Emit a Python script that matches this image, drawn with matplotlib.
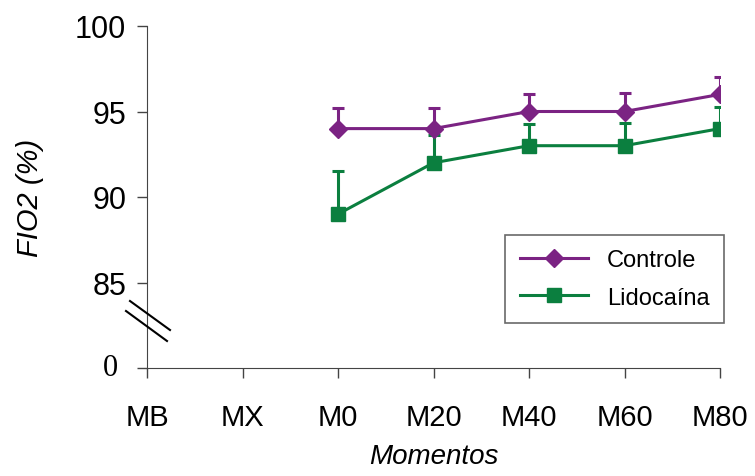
import matplotlib.pyplot as plt
import matplotlib.transforms as mtransforms
from matplotlib.lines import Line2D

# data
momentos = ["MB", "MX", "M0", "M20", "M40", "M60", "M80"]
idx = [2, 3, 4, 5, 6]          # positions of M0..M80
controle = [94, 94, 95, 95, 96]
controle_sd = [1.2, 1.2, 1.0, 1.1, 1.0]
lidocaina = [89, 92, 93, 93, 94]
lidocaina_sd = [2.5, 1.6, 1.25, 1.3, 1.25]
yticks = [80, 85, 90, 95, 100]
ytick_labels = ["", "85", "90", "95", "100"]

purple = "#7B2383"
green = "#0B7F3F"

plt.rcParams['font.family'] = ['Liberation Sans', 'DejaVu Sans']

fig = plt.figure(figsize=(7.55, 4.77), dpi=100)
ax = fig.add_axes([147/755, 1 - 369/477, 573/755, 342/477])

ax.errorbar(idx, controle, yerr=[[0]*5, controle_sd], color=purple, marker="D",
            markersize=9, linewidth=2.2, capsize=4.5, capthick=2.2, zorder=3)
ax.errorbar(idx, lidocaina, yerr=[[0]*5, lidocaina_sd], color=green, marker="s",
            markersize=10, linewidth=2.2, capsize=4.5, capthick=2.2, zorder=2)

ax.set_xlim(0, 6)
ax.set_ylim(80, 100)
ax.set_xticks(range(len(momentos)))
ax.set_xticklabels(momentos, fontsize=21)
ax.set_yticks(yticks)
ax.set_yticklabels(ytick_labels, fontsize=22)
ax.tick_params(axis='both', direction='out', length=7, width=1, color='#444444')
ax.tick_params(axis='x', pad=18)
ax.tick_params(axis='y', pad=8)

# the "0" below the axis break is set in a serif face
trans = mtransforms.blended_transform_factory(ax.transAxes, ax.transData)
ax.text(-0.05, 80, "0", transform=trans, fontsize=22, family='Liberation Serif',
        ha='right', va='center')

for s in ["top", "right"]:
    ax.spines[s].set_visible(False)
for s in ["left", "bottom"]:
    ax.spines[s].set_color('#444444')

ax.set_xlabel("Momentos", fontsize=20, style='italic', labelpad=9)
ax.set_ylabel("FIO2 (%)", fontsize=21, style='italic', labelpad=22)

handles = [Line2D([], [], color=purple, marker="D", markersize=9, linewidth=2.2),
           Line2D([], [], color=green, marker="s", markersize=10, linewidth=2.2)]
leg = ax.legend(handles, ["Controle", "Lidocaína"], loc='upper left',
                bbox_to_anchor=(0.625, 0.39), borderaxespad=0, fontsize=17,
                frameon=True, fancybox=False, edgecolor='#444444',
                handlelength=2.9, borderpad=0.62, labelspacing=0.65)
leg.get_frame().set_linewidth(1.2)

# axis break marks
W, H = 755, 477
for (x0, y0, x1, y1) in [(130, 302, 170, 331), (126, 312, 167, 342)]:
    fig.add_artist(Line2D([x0/W, x1/W], [1 - y0/H, 1 - y1/H], color='black', linewidth=1.5))

fig.savefig("out.png", dpi=100)
